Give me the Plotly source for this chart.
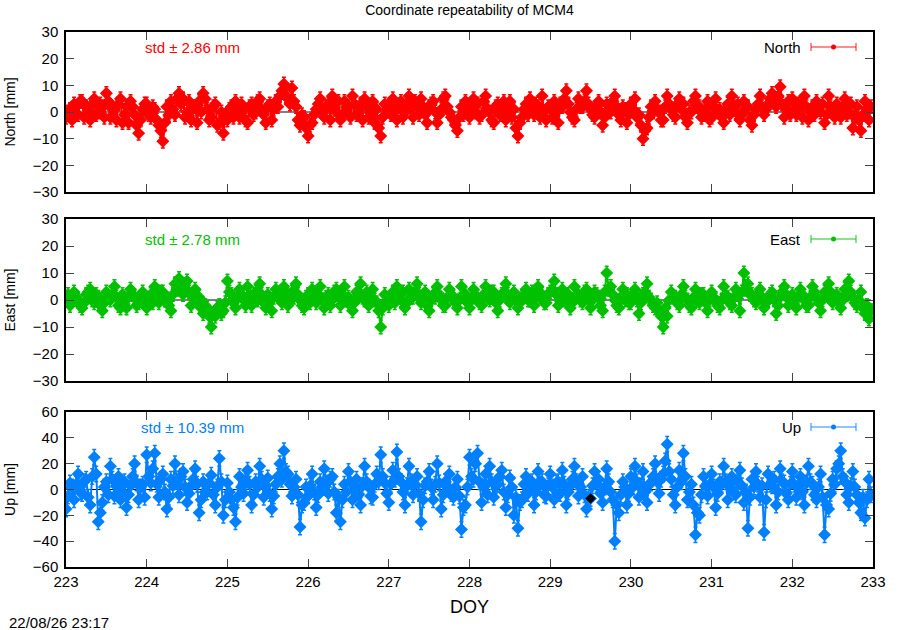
import numpy as np
import plotly.graph_objects as go

# epochs: day of year, sampled every 0.025 day starting at DOY 223
doy_start = 223.0
epoch_step = 0.025

north = [
    -2, 0, 1, -3, 3, 2, -1, 4, 4, -2, 2, 1, -3, 3, 5, -1, 0, 3, 2, -2, 7, 4, -2, 1, 1, -3, 3, 5, -4, -1, 2, -4, 4, 2, -1, -5, -8, -3, 1, 3,
    3, -1, -2, 2, 1, -3, -5, -7, -11, -4, 2, -1, 4, 1, -1, 5, 7, 3, 5, -2, 0, 4, -3, 1, 2, -4, 4, 0, 7, 5, 1, -3, -2, 2, 3, -5, -4, 0, -8, -2,
    -3, 1, 2, -2, 4, 0, -2, 3, 1, -3, -4, 2, 3, -1, 0, 4, 5, 1, -1, -4, 2, 3, -3, 1, 4, 2, 6, 8, 10.5, 6, 5, 3, 9, 4, 2, -3, -5, -1, -2, -6,
    -9, -5, -4, -1, 1, 3, 5, 0, -2, 2, 3, -3, 6, 1, 0, 4, -3, -1, 4, 2, 2, -2, 6, 3, -1, 1, 3, -3, 5, 2, -2, 0, 4, -4, 1, -6, -9, -2, 3, 1,
    2, -1, 5, 1, -3, 2, 4, -2, 0, 3, 6, 1, -2, 4, 3, -1, 5, 2, -1, -4, 2, 3, 4, 0, -4, -1, 1, 5, 6, 2, 0, -2, -3, -5, -7, -2, 2, -1, 4, 1,
    -2, 2, 5, 0, 3, -2, -1, 4, 6, 1, 0, -3, -4, 2, 3, -1, 2, 4, -3, 0, 4, -2, 1, -6, -9, -4, -2, 1, 3, -1, 5, 2, -1, 3, 2, -2, 6, 0, -3, 2,
    1, -2, 4, 0, -4, 3, 2, 5, 8, 3, 0, -2, -3, 1, 5, 2, 2, 4, 8, 3, 1, -1, -2, 2, 4, 0, -5, -2, 3, 1, 0, 4, 6, 2, -1, -3, 2, 1, -4, -1,
    3, 1, 5, -2, -1, -5, -10, -7, -6, -2, 2, 0, 4, 1, 0, -3, -3, 2, 6, 3, 1, -1, -2, 3, 5, 1, 3, -2, -4, 0, 0, 4, 6, 2, 2, -2, -1, 1, 4, -3,
    -2, 2, 5, 0, 1, -2, -4, 1, 3, -1, 6, 2, 0, 3, -3, -1, 4, 1, 2, -3, -5, -1, 1, 3, 6, 2, -1, 1, 3, 5, 7, 4, 2, 6, 9.5, 3, -2, 1, 4, -1,
    5, 1, -1, 3, 3, -2, 6, 2, -3, 0, 2, -1, 4, 1, 0, 3, -4, -1, 6, 2, 1, -2, 3, 1, -2, 2, 5, -1, 0, 3, -6, -2, 2, -3, -7, -1, 4, 1, -3, 2,
]

east = [
    1, 2, -2, 0, 3, 1, 0, -2, -3, -1, 2, 3, 4, 0, -1, 2, 1, -2, -4, -1, 3, 1, 0, 2, 5, 1, -2, -3, 2, 0, -3, 1, 4, 2, 1, -2, -1, 1, 3, -1,
    -3, 0, 2, -1, 5, 2, -1, 3, 3, 0, 0, -2, -4, 2, 6, 4, 8, 5, 2, 4, 7, 3, -2, 1, 4, 0, 1, -3, -5, -2, -3, -6, -10, -5, -6, -3, -2, -5, -4, -1,
    7, 3, 2, -1, -3, 1, 4, 2, 0, -2, 5, 1, -2, 2, 3, 0, 6, 2, -1, -3, 2, 0, -4, 1, 4, 2, 1, -1, 5, 3, -2, 0, 3, 1, 6, 2, 0, -2, -3, 1,
    2, -1, 4, 1, -1, 2, 5, 0, -3, 1, 2, -2, 0, 3, 4, 1, -2, 2, 5, 0, 1, -2, -4, -1, 3, 2, 6, 1, 0, 3, -2, 1, 4, 0, -1, -4, -10, -3, 2, 0,
    -2, 1, 3, -1, 5, 2, 0, 3, -3, -1, 4, 1, 1, 3, 6, 2, -1, 1, 3, -2, -4, 0, 2, 1, 5, 2, 0, -2, -2, 1, 4, 2, 1, -1, -3, 0, 5, 2, 2, -1,
    -3, 0, 4, 1, 1, -1, -2, 2, 5, 1, 0, 3, 3, -1, -4, 0, 2, 3, 6, 2, -1, 1, 3, 0, -3, -1, 1, 2, 4, 0, 0, 3, -2, 1, 5, 2, 2, -1, -1, 2,
    3, 4, 7, 2, -2, 1, 4, 0, 0, 2, -3, -1, 5, 2, 2, 0, -1, 3, 4, 1, -3, 0, 3, 2, 1, -2, -4, 3, 10, 4, 5, 2, 0, -2, -3, 1, 4, 0, 2, -1,
    -1, 2, 4, 0, -5, -1, 2, 3, 6, 1, 0, -2, -3, -1, -4, -6, -10, -3, -6, 0, 3, 1, 1, -1, -2, 2, 5, 1, 0, -2, -3, 1, 4, 0, -1, 2, 2, -1, -4, 0,
    3, 1, 0, -2, -3, 0, 5, 2, 1, -1, -2, 1, 4, 2, -4, 3, 10, 4, 6, 2, 2, 0, -1, 2, 4, 1, -3, -1, 0, 2, 3, 0, -5, -2, 1, 3, 5, 2, -2, 0,
    2, 0, -3, 1, 4, 2, 0, -2, -2, 1, 5, 3, 1, -1, -4, 0, 3, 2, 6, 3, -1, 1, 2, -1, -3, 0, 4, 2, 7, 3, 1, -1, -2, 0, 3, -3, -5, -2, -7, -4,
]

up = [
    -15, -5, 5, 2, -8, 4, 12, -2, -3, 6, 8, -6, -12, 10, 25, 12, -25, -18, -10, 2, 6, -4, 18, 8, -5, 3, 10, -8, -2, 6, -14, -4, 3, 10, 20, 5, -8, 2, 4, -6,
    27, 10, 5, 16, 28, 4, -6, 8, 12, -2, -15, -6, 8, 3, 20, 6, -4, 10, 14, 2, -10, -3, 3, 8, 16, 4, -18, -8, 6, -2, -2, 5, 11, -4, -12, 2, 24, 6, -20, -8,
    5, -2, -8, -14, -25, -6, 10, 2, -3, 6, 15, 4, -12, -4, 6, 2, 18, 8, -6, 3, 9, -3, -15, -5, 4, 10, 20, 8, 30, 14, 12, 4, -5, 2, 8, -4, -29, -12, -10, 2,
    -5, 3, 12, -2, -14, -4, 6, 2, 16, 5, -3, 8, 10, -2, -18, -6, -25, -8, 4, -2, 14, 6, -8, 2, 8, -4, -12, 3, 18, 6, 2, -5, -6, 4, 12, 6, 27, 10, 5, -3,
    -10, 4, 15, 8, 29, 10, 6, -2, -12, 3, 18, 6, -4, 4, 10, -3, -25, -8, 3, 6, 14, 2, -8, 4, 20, 5, -15, -4, 6, 2, 12, -3, -6, 2, 8, -5, -31, -14, -12, 2,
    25, 10, 8, 20, 28, 6, -10, 2, 12, -4, 18, 6, -6, 3, 4, 10, 15, -2, -14, -4, 9, 2, -20, -6, -30, -10, -8, 4, 10, -3, 2, 6, -12, -2, 14, 4, 6, -4, -5, 3,
    12, 2, -8, 5, 6, -3, 15, 4, -12, -2, 3, 8, 18, 6, -5, 2, 10, -4, -15, -6, -7, 3, 14, 4, 8, -3, -10, 2, 16, 6, -2, -8, -40, -12, -18, -4, 6, 2, -12, -3,
    10, 2, 18, 6, -6, 3, 14, -2, -10, 4, 5, 10, 20, 6, -3, 8, 12, 22, 35, 14, 8, -4, -12, 2, 15, 6, 28, 10, -8, -2, 4, -12, -35, -18, -20, -4, 10, 3, -5, 4,
    12, 2, -14, -3, 6, 4, 18, 6, -8, 2, 10, -2, -4, 6, 15, 3, -10, -2, -30, -6, 8, 2, 14, 4, -6, 3, -33, -8, 12, 4, 3, 8, -12, -2, 16, 6, 5, -3, -8, 4,
    14, 4, -6, 3, 10, -2, -12, 5, 18, 6, 4, -4, -8, 2, 12, -6, -35, -12, -15, -3, 8, 4, 16, 20, 30, 10, 6, -4, -10, 3, 14, 2, -4, -10, -18, -6, -22, -8, 8, -4,
]

# flagged epoch drawn in black on the Up panel
up_flag_doy = [229.5]
up_flag = [-7]

std_values = {"North": 2.86, "East": 2.78, "Up": 10.39}
sigma = {"North": 2.5, "East": 2.5, "Up": 6.0}
colors = {"North": "#ff0000", "East": "#00c000", "Up": "#0080ff"}

doy = doy_start + epoch_step * np.arange(len(north))

FONT = "Liberation Sans, Arial, sans-serif"

# plot area in pixels: x 66..873, panels stacked between y 32..567
L, R, T, B = 66, 873, 32, 567


def px(x):
    return (x - L) / (R - L)


def py(y):
    return (B - y) / (B - T)


panels = [
    ("North", north, "", "y", (192, 32), [-30, 30], 10, 47),
    ("East", east, "2", "y2", (381, 219), [-30, 30], 10, 239),
    ("Up", up, "3", "y3", (567, 412), [-60, 60], 20, 427),
]

fig = go.Figure()
layout = dict(
    width=900, height=630,
    margin=dict(l=L, r=900 - R, t=T, b=630 - B),
    paper_bgcolor="white", plot_bgcolor="white",
    showlegend=False,
    font=dict(family=FONT, size=15, color="black"),
    title=dict(text="Coordinate repeatability of MCM4", x=(L + R) / 2 / 900, xanchor="center",
               y=1 - 10 / 630, yanchor="middle", font=dict(size=14)),
)

shapes = []
annotations = []

for name, vals, sfx, yref, (ybot, ytop), yrange, ydt, ykey in panels:
    col = colors[name]
    xname = "x" + sfx
    # zero line underneath the points
    fig.add_trace(go.Scatter(x=[doy_start, doy[-1]], y=[0, 0], mode="lines",
                             line=dict(color="black", width=1),
                             xaxis=xname, yaxis=yref, hoverinfo="skip"))
    fig.add_trace(go.Scatter(
        x=doy, y=vals, mode="lines+markers", name=name,
        line=dict(color=col, width=2),
        marker=dict(symbol="diamond", size=10, color=col),
        error_y=dict(type="constant", value=sigma[name], color=col, thickness=1.5, width=2),
        xaxis=xname, yaxis=yref,
    ))

    axis_common = dict(ticks="inside", ticklen=8, tickcolor="#444", mirror="ticks",
                       showline=True, linecolor="black", linewidth=1.5,
                       showgrid=False, zeroline=False, automargin=False,
                       tickfont=dict(size=15))
    layout["xaxis" + sfx] = dict(domain=[0, 1], anchor=yref, range=[223, 233], dtick=1,
                                 tick0=223, showticklabels=(name == "Up"), **axis_common)
    layout["yaxis" + sfx] = dict(domain=[py(ybot), py(ytop)], anchor=xname, range=yrange,
                                 dtick=ydt, ticklabelstandoff=3,
                                 title=dict(text=f"{name} [mm]", standoff=14,
                                            font=dict(size=14)),
                                 **axis_common)

    annotations.append(dict(xref="paper", yref="paper", x=px(192), y=py(ykey),
                            text=f"std \u00b1 {std_values[name]:.2f} mm", showarrow=False,
                            font=dict(color=col, size=15), xanchor="center", yanchor="middle"))
    # gnuplot style key: label then errorbar sample
    annotations.append(dict(xref="paper", yref="paper", x=px(803), y=py(ykey),
                            text=name, showarrow=False, xanchor="right", yanchor="middle",
                            font=dict(size=15)))
    lc = dict(color=col, width=1.5)
    shapes += [
        dict(type="line", xref="paper", yref="paper", x0=px(811), x1=px(856),
             y0=py(ykey), y1=py(ykey), line=lc, opacity=0.6),
        dict(type="line", xref="paper", yref="paper", x0=px(811), x1=px(811),
             y0=py(ykey - 4), y1=py(ykey + 4), line=lc, opacity=0.6),
        dict(type="line", xref="paper", yref="paper", x0=px(856), x1=px(856),
             y0=py(ykey - 4), y1=py(ykey + 4), line=lc, opacity=0.6),
        dict(type="circle", xref="paper", yref="paper", x0=px(831), x1=px(836),
             y0=py(ykey + 2.5), y1=py(ykey - 2.5), fillcolor=col, line=dict(width=0)),
    ]

fig.add_trace(go.Scatter(x=up_flag_doy, y=up_flag, mode="markers",
                         marker=dict(symbol="diamond", size=8, color="black"),
                         xaxis="x3", yaxis="y3"))

layout["xaxis3"]["title"] = dict(text="DOY", standoff=12)

annotations.append(dict(xref="paper", yref="paper", x=px(7), y=py(622), text="22/08/26 23:17",
                        showarrow=False, xanchor="left", yanchor="middle", font=dict(size=15)))

layout["shapes"] = shapes
layout["annotations"] = annotations
fig.update_layout(**layout)

# drop the browser's default body margin so the figure sits at the page origin
fig.write_html("out.html", config={"displayModeBar": False},
               post_script="document.body.style.margin='0';document.body.style.overflow='hidden';")
